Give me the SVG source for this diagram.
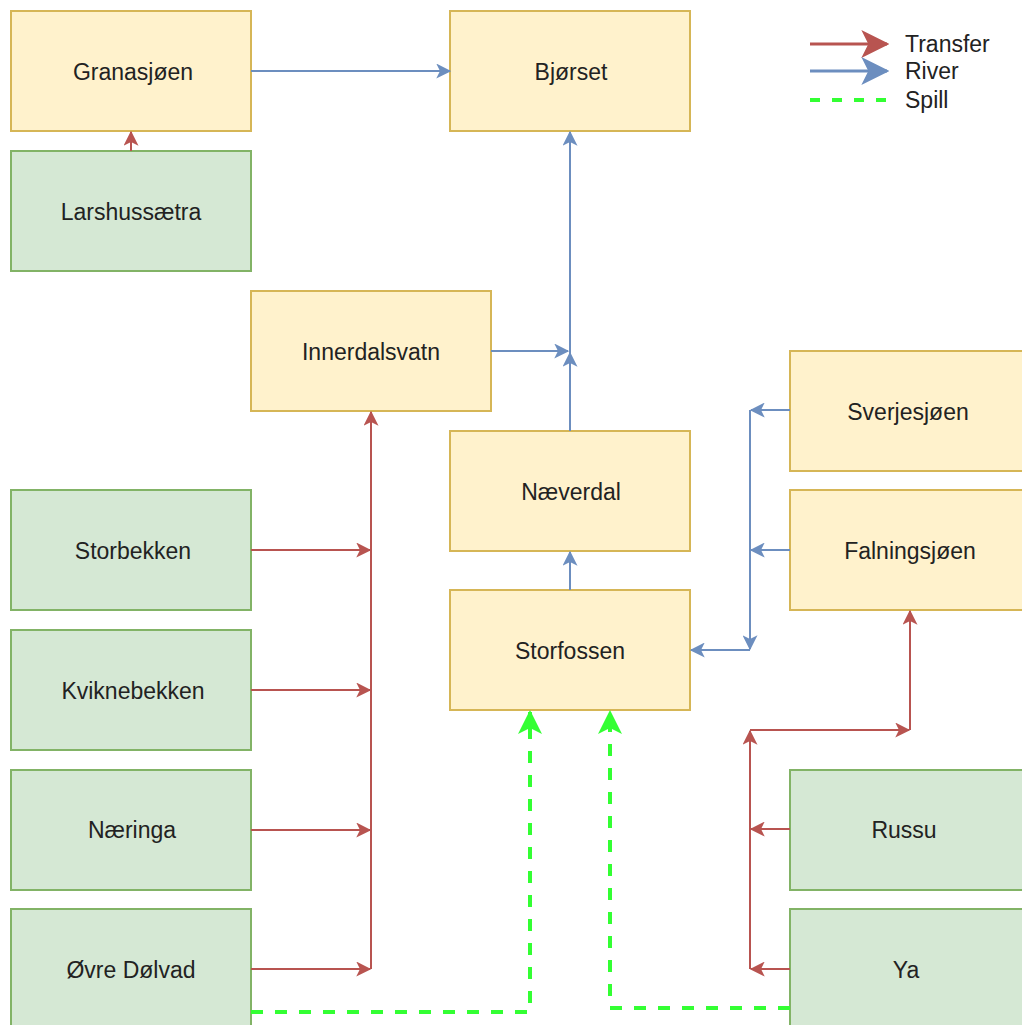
<svg xmlns="http://www.w3.org/2000/svg" width="1022" height="1025" viewBox="0 0 1022 1025">
<defs>
<style>
.y{fill:#fff2cc;stroke:#d6b656;stroke-width:2}
.g{fill:#d5e8d4;stroke:#82b366;stroke-width:2}
text{font-family:"Liberation Sans",Arial,sans-serif;font-size:23px;fill:#222222;text-anchor:middle;dominant-baseline:central}
.lt{text-anchor:start}
.r{stroke:#b85450;stroke-width:2;fill:none}
.b{stroke:#6c8ebf;stroke-width:2;fill:none}
.s{stroke:#33ff33;stroke-width:4;fill:none;stroke-dasharray:12 12}
</style>
<marker id="ar" viewBox="0 0 12 12" refX="11" refY="6" markerWidth="15" markerHeight="15" markerUnits="userSpaceOnUse" orient="auto"><path d="M0,0 L12,6 L0,12 L3,6 Z" fill="#b85450"/></marker>
<marker id="ab" viewBox="0 0 12 12" refX="11" refY="6" markerWidth="15" markerHeight="15" markerUnits="userSpaceOnUse" orient="auto"><path d="M0,0 L12,6 L0,12 L3,6 Z" fill="#6c8ebf"/></marker>
<marker id="as" viewBox="0 0 12 12" refX="11" refY="6" markerWidth="24" markerHeight="24" markerUnits="userSpaceOnUse" orient="auto"><path d="M0,0 L12,6 L0,12 L3,6 Z" fill="#33ff33"/></marker>
<marker id="arL" viewBox="0 0 12 12" refX="11" refY="6" markerWidth="28" markerHeight="28" markerUnits="userSpaceOnUse" orient="auto"><path d="M0,0 L12,6 L0,12 L3,6 Z" fill="#b85450"/></marker>
<marker id="abL" viewBox="0 0 12 12" refX="11" refY="6" markerWidth="28" markerHeight="28" markerUnits="userSpaceOnUse" orient="auto"><path d="M0,0 L12,6 L0,12 L3,6 Z" fill="#6c8ebf"/></marker>
</defs>
<rect width="1022" height="1025" fill="#ffffff"/>

<g id="nodes">
<g id="granasjoen"><rect class="y" x="11" y="11" width="240" height="120"/><text x="133" y="72">Granasjøen</text></g>
<g id="bjorset"><rect class="y" x="450" y="11" width="240" height="120"/><text x="571" y="72">Bjørset</text></g>
<g id="larshussaetra"><rect class="g" x="11" y="151" width="240" height="120"/><text x="131" y="212">Larshussætra</text></g>
<g id="innerdalsvatn"><rect class="y" x="251" y="291" width="240" height="120"/><text x="371" y="352">Innerdalsvatn</text></g>
<g id="naeverdal"><rect class="y" x="450" y="431" width="240" height="120"/><text x="571" y="492">Næverdal</text></g>
<g id="storfossen"><rect class="y" x="450" y="590" width="240" height="120"/><text x="570" y="651">Storfossen</text></g>
<g id="sverjesjoen"><rect class="y" x="790" y="351" width="240" height="120"/><text x="908" y="412">Sverjesjøen</text></g>
<g id="falningsjoen"><rect class="y" x="790" y="490" width="240" height="120"/><text x="910" y="551">Falningsjøen</text></g>
<g id="russu"><rect class="g" x="790" y="770" width="240" height="120"/><text x="904" y="830">Russu</text></g>
<g id="ya"><rect class="g" x="790" y="909" width="240" height="120"/><text x="906" y="970">Ya</text></g>
<g id="storbekken"><rect class="g" x="11" y="490" width="240" height="120"/><text x="133" y="551">Storbekken</text></g>
<g id="kviknebekken"><rect class="g" x="11" y="630" width="240" height="120"/><text x="133" y="691">Kviknebekken</text></g>
<g id="naeringa"><rect class="g" x="11" y="770" width="240" height="120"/><text x="132" y="830">Næringa</text></g>
<g id="ovre-dolvad"><rect class="g" x="11" y="909" width="240" height="120"/><text x="131" y="970">Øvre Dølvad</text></g>
</g>

<g id="connectors">
<path class="b" d="M251,71 H450" marker-end="url(#ab)"/>
<path class="r" d="M131,151 V132" marker-end="url(#ar)"/>
<path class="b" d="M491,351 H568" marker-end="url(#ab)"/>
<path class="b" d="M570,431 V353" marker-end="url(#ab)"/>
<path class="b" d="M570,353 V132" marker-end="url(#ab)"/>
<path class="b" d="M570,590 V552" marker-end="url(#ab)"/>
<path class="b" d="M790,410 H751" marker-end="url(#ab)"/>
<path class="b" d="M790,550 H751" marker-end="url(#ab)"/>
<path class="b" d="M750,410 V649" marker-end="url(#ab)"/>
<path class="b" d="M750,650 H691" marker-end="url(#ab)"/>

<path class="r" d="M251,550 H370" marker-end="url(#ar)"/>
<path class="r" d="M251,690 H370" marker-end="url(#ar)"/>
<path class="r" d="M251,830 H370" marker-end="url(#ar)"/>
<path class="r" d="M251,969 H370" marker-end="url(#ar)"/>
<path class="r" d="M371,969 V412" marker-end="url(#ar)"/>

<path class="r" d="M790,829 H751" marker-end="url(#ar)"/>
<path class="r" d="M790,969 H751" marker-end="url(#ar)"/>
<path class="r" d="M750,969 V731" marker-end="url(#ar)"/>
<path class="r" d="M750,730 H909" marker-end="url(#ar)"/>
<path class="r" d="M910,730 V611" marker-end="url(#ar)"/>

<path class="s" d="M251,1012 H530 V712" marker-end="url(#as)"/>
<path class="s" d="M790,1008 H610 V712" marker-end="url(#as)"/>
</g>

<g id="legend">
<path d="M810,44 H887" stroke="#b85450" stroke-width="3" fill="none" marker-end="url(#arL)"/>
<path d="M810,71 H887" stroke="#6c8ebf" stroke-width="3" fill="none" marker-end="url(#abL)"/>
<path d="M810,100 H892" stroke="#33ff33" stroke-width="4" fill="none" stroke-dasharray="10 12"/>
<text class="lt" x="905" y="44">Transfer</text>
<text class="lt" x="905" y="71">River</text>
<text class="lt" x="905" y="100">Spill</text>
</g>
</svg>
